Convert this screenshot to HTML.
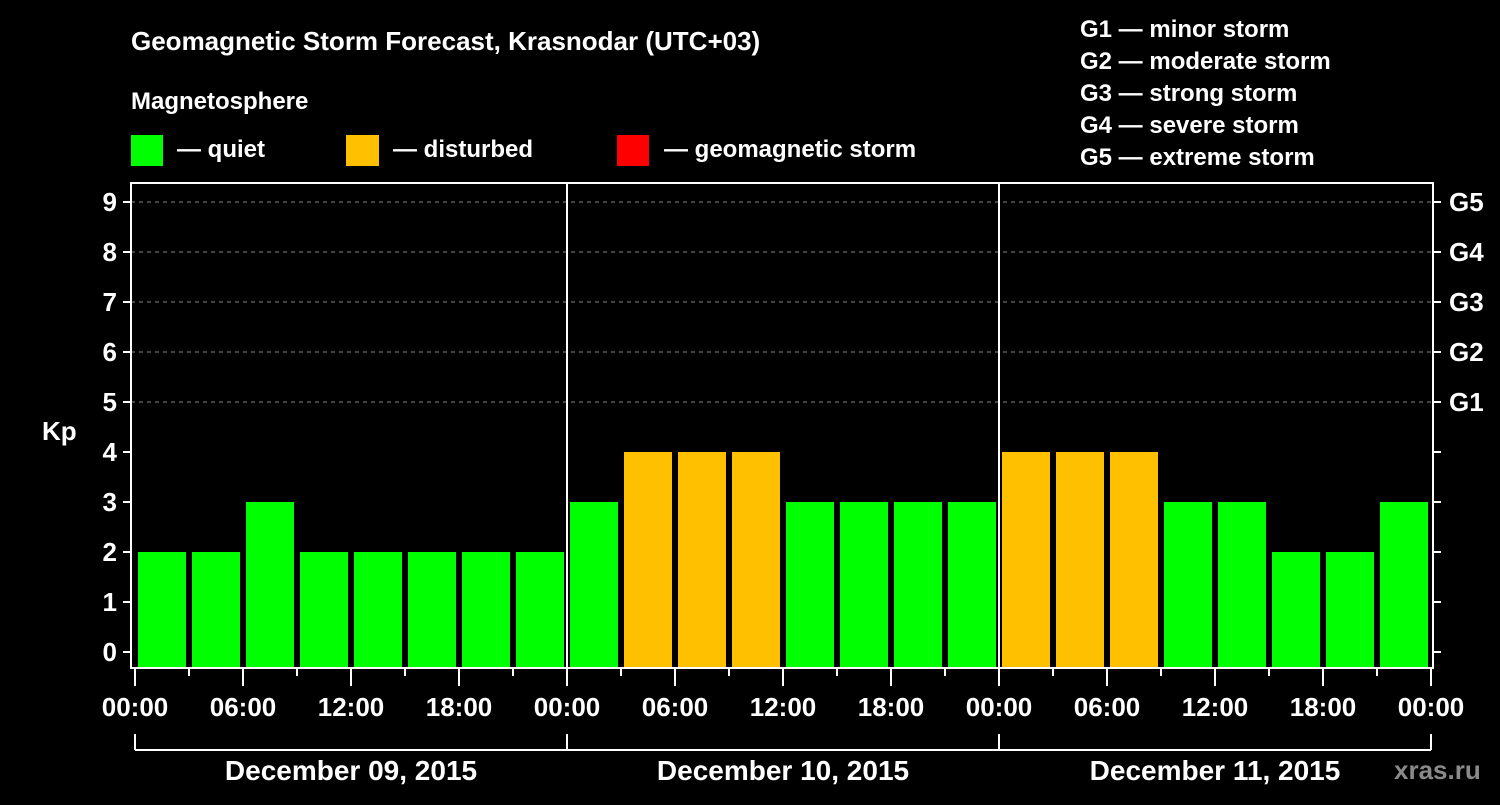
<!DOCTYPE html>
<html><head><meta charset="utf-8"><style>
body{margin:0;background:#000;width:1500px;height:800px;overflow:hidden}
svg text{font-family:"Liberation Sans",Arial,sans-serif;font-weight:bold;fill:#fff}
</style></head><body>
<svg id="c" width="1500" height="800" xmlns="http://www.w3.org/2000/svg">
<rect width="1500" height="800" fill="#000"/>
<text x="131" y="50" font-size="26">Geomagnetic Storm Forecast, Krasnodar (UTC+03)</text>
<text x="131" y="109" font-size="24">Magnetosphere</text>
<g><rect x="131" y="135" width="32" height="31" fill="#00ff00"/><text x="177" y="157" font-size="24">— quiet</text></g>
<g><rect x="346" y="135" width="33" height="31" fill="#ffc000"/><text x="393" y="157" font-size="24">— disturbed</text></g>
<g><rect x="617" y="135" width="32" height="31" fill="#ff0000"/><text x="664" y="157" font-size="24">— geomagnetic storm</text></g>
<g font-size="24">
<text x="1080" y="37">G1 — minor storm</text>
<text x="1080" y="69">G2 — moderate storm</text>
<text x="1080" y="101">G3 — strong storm</text>
<text x="1080" y="133">G4 — severe storm</text>
<text x="1080" y="165">G5 — extreme storm</text>
</g>
<text x="42" y="440" font-size="26">Kp</text>
<text x="1394" y="779" font-size="26" fill="#888" style="fill:#8a8a8a">xras.ru</text>
<g id="plot"></g>
</svg>
<script>
const values=[2,2,3,2,2,2,2,2, 3,4,4,4,3,3,3,3, 4,4,4,3,3,2,2,3];
const yTicks=[0,1,2,3,4,5,6,7,8,9];
const gLabels=["G1","G2","G3","G4","G5"];
const hourLabels=["00:00","06:00","12:00","18:00"];
const days=["December 09, 2015","December 10, 2015","December 11, 2015"];
const NS="http://www.w3.org/2000/svg";
const g=document.getElementById('plot');
const X0=135,DAYW=432,L=131,R=1433,T=183,B=668;
const x=h=>X0+h*DAYW/24;
const y=v=>652-v*50;
function el(t,a,p){const e=document.createElementNS(NS,t);for(const k in a)e.setAttribute(k,a[k]);(p||g).appendChild(e);return e;}
yTicks.forEach(v=>{
 if(v>=5){const l=el('line',{x1:L,x2:R,y1:y(v),y2:y(v),stroke:'#888','stroke-dasharray':'4,4','stroke-width':1});
 
 }
 const t=el('line',{x1:L-8,x2:L,y1:y(v),y2:y(v),stroke:'#fff','stroke-width':2});
 
 
 const t2=el('line',{x1:R,x2:R+8,y1:y(v),y2:y(v),stroke:'#fff','stroke-width':2});
 
 
 const tx=el('text',{x:L-14,y:y(v)+9,'font-size':26,'text-anchor':'end'});tx.textContent=v;
 
 
});
gLabels.forEach((s,i)=>{const tx=el('text',{x:1449,y:y(5+i)+9,'font-size':26});tx.textContent=s;
 
 });
values.forEach((v,i)=>{
 const c=v>=5?'#ff0000':(v>=4?'#ffc000':'#00ff00');
 const r=el('rect',{x:x(i*3)+3,y:y(v),width:48,height:B-y(v),fill:c});
 
 
});
const ax=el('rect',{x:L,y:T,width:R-L,height:B-T,fill:'none',stroke:'#fff','stroke-width':2});


for(let d=1;d<days.length;d++){const l=el('line',{x1:x(d*24),x2:x(d*24),y1:T,y2:B,stroke:'#fff','stroke-width':2});
 
 }
for(let h=0;h<=days.length*24;h+=3){
 const major=h%6===0;
 const t=el('line',{x1:x(h),x2:x(h),y1:B,y2:B+(major?18:8),stroke:'#fff','stroke-width':2});
 
 
 if(major){const tx=el('text',{x:x(h),y:716,'font-size':26,'text-anchor':'middle'});tx.textContent=hourLabels[(h/6)%4];
 
 }
}
const br=el('line',{x1:x(0),x2:x(days.length*24),y1:750,y2:750,stroke:'#fff','stroke-width':2});


for(let d=0;d<=days.length;d++){const l=el('line',{x1:x(d*24),x2:x(d*24),y1:734,y2:750,stroke:'#fff','stroke-width':2});
 
 }
days.forEach((s,d)=>{const tx=el('text',{x:x(d*24+12),y:780,'font-size':28,'text-anchor':'middle'});tx.textContent=s;
 
 });
</script>
</body></html>
